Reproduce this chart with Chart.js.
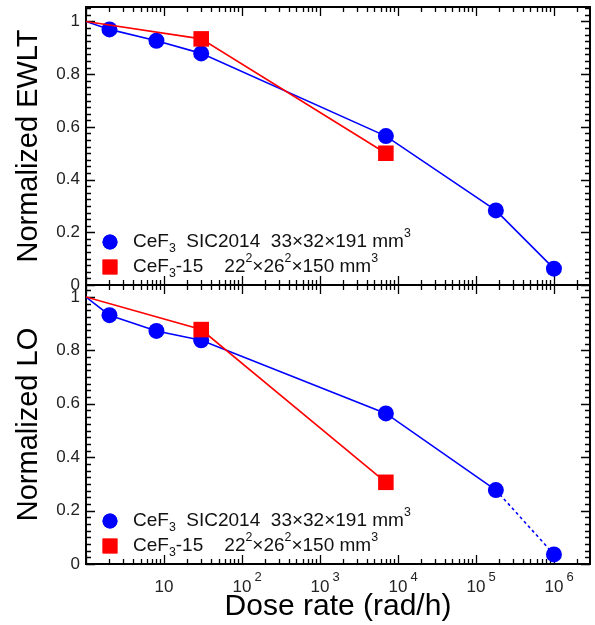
<!DOCTYPE html>
<html>
<head>
<meta charset="utf-8">
<script src="https://cdn.jsdelivr.net/npm/chart.js@4.4.1/dist/chart.umd.min.js"></script>
<style>
    html, body { margin: 0; padding: 0; background: #fff; }
    #wrap { position: relative; width: 595px; height: 625px; overflow: hidden; }
    canvas { position: absolute; left: 0; }
    #top { top: 0; }
    #bot { top: 280px; }
</style>
</head>
<body>
<div id="wrap">
    <canvas id="top" width="595" height="300"></canvas>
    <canvas id="bot" width="595" height="345"></canvas>
</div>
<script>
// dose rate (rad/h) and normalized values
const DOSE_BLUE = [1, 2, 8, 30, 7000, 1.8e5, 1e6];
const EWLT_BLUE = [1, 0.970, 0.927, 0.879, 0.565, 0.283, 0.062];
const LO_BLUE   = [1, 0.932, 0.873, 0.838, 0.564, 0.277, 0.036];

const DOSE_RED = [1, 30, 7000];
const EWLT_RED = [1, 0.934, 0.500];
const LO_RED   = [1, 0.878, 0.306];

const LABEL_BLUE = 'CeF₃  SIC2014  33×32×191 mm³';
const LABEL_RED  = 'CeF₃-15    22²×26²×150 mm³';

const X_TICKS       = [10, 1e2, 1e3, 1e4, 1e5, 1e6];
const X_TICK_LABELS = ['10', '10²', '10³', '10⁴', '10⁵', '10⁶'];
const Y_TICKS       = [0, 0.2, 0.4, 0.6, 0.8, 1];
const Y_TICK_LABELS = ['0', '0.2', '0.4', '0.6', '0.8', '1'];

const FONT  = '"Liberation Sans", Arial, sans-serif';
const BLUE  = '#0000ff';
const RED   = '#ff0000';

const SUB = { '₃': '3' };
const SUP = { '²': '2', '³': '3', '⁴': '4', '⁵': '5', '⁶': '6' };

// split a label into normal / sub / sup runs
function toRuns(text) {
    const runs = [];
    for (const ch of text) {
        const kind = SUB[ch] ? 'sub' : SUP[ch] ? 'sup' : 'n';
        const c    = SUB[ch] || SUP[ch] || ch;
        const last = runs[runs.length - 1];
        if (last && last.kind === kind) last.s += c;
        else runs.push({ kind, s: c });
    }
    return runs;
}

function drawRich(ctx, text, x, y, size) {
    for (const r of toRuns(text)) {
        let s = size, dy = 0;
        if (r.kind === 'sub') { s = size * 0.65; dy = size * 0.36; }
        if (r.kind === 'sup') { s = size * 0.65; dy = -size * 0.42; }
        ctx.font = `${s}px ${FONT}`;
        ctx.fillText(r.s, x, y + dy);
        x += ctx.measureText(r.s).width;
    }
}

const rootFrame = {
    id : 'rootFrame',

    beforeDatasetsDraw(chart) {
        const { ctx, chartArea: a, scales: { x, y } } = chart;
        ctx.save();
        ctx.strokeStyle = '#000';
        ctx.lineWidth   = 1.3;
        ctx.beginPath();

        const e0 = Math.floor(Math.log10(x.min));
        const e1 = Math.ceil(Math.log10(x.max));
        for (let e = e0; e <= e1; e++) {
            for (let m = 1; m <= 9; m++) {
                const v = m * Math.pow(10, e);
                if (v < x.min || v > x.max) continue;
                const px  = Math.round(x.getPixelForValue(v)) + 0.5;
                const len = m === 1 ? 9 : 5;
                ctx.moveTo(px, a.bottom); ctx.lineTo(px, a.bottom - len);
                ctx.moveTo(px, a.top);    ctx.lineTo(px, a.top + len);
            }
        }

        for (let k = 0; k * 0.025 <= y.max + 1e-9; k++) {
            const py  = Math.round(y.getPixelForValue(k * 0.025)) + 0.5;
            const len = k % 8 === 0 ? 9 : 5;
            ctx.moveTo(a.left, py);  ctx.lineTo(a.left + len, py);
            ctx.moveTo(a.right, py); ctx.lineTo(a.right - len, py);
        }
        ctx.stroke();

        ctx.lineWidth = 2;
        ctx.strokeRect(a.left, a.top, a.right - a.left, a.bottom - a.top);
        ctx.restore();
    },

    afterDraw(chart) {
        const { ctx, chartArea: a, scales: { x } } = chart;
        ctx.save();
        ctx.textBaseline = 'middle';
        ctx.textAlign    = 'left';

        // legend, inside the frame at the lower left
        chart.data.datasets.forEach((ds, i) => {
            const cy = a.bottom - 43 + i * 25;
            ctx.fillStyle = ds.backgroundColor;
            Chart.helpers.drawPoint(ctx, {
                pointStyle  : ds.pointStyle,
                radius      : ds.pointStyle === 'rect' ? 10.5 : 7.5,
                rotation    : 0,
                borderWidth : 0,
            }, a.left + 24, cy);
            ctx.fill();
            ctx.fillStyle = '#111';
            drawRich(ctx, ds.label, a.left + 47, cy, 19);
        });

        // decade labels with raised exponents
        if (x.options.display) {
            ctx.fillStyle = '#222';
            X_TICKS.forEach((v, i) => {
                const runs = toRuns(X_TICK_LABELS[i]);
                const px   = x.getPixelForValue(v);
                const cy   = a.bottom + 23;
                ctx.font = `17px ${FONT}`;
                const w = ctx.measureText(runs[0].s).width;
                ctx.fillText(runs[0].s, px - w / 2, cy);
                if (runs[1]) {
                    ctx.font = `13px ${FONT}`;
                    ctx.fillText(runs[1].s, px + w / 2 + 3, cy - 10);
                }
            });
        }
        ctx.restore();
    },
};

function noPad(s) {
    s.paddingTop = 0; s.paddingBottom = 0;
    s.paddingLeft = 0; s.paddingRight = 0;
}

function makePanel(id, cfg) {
    const ctx = document.getElementById(id).getContext('2d');
    const lastIdx = DOSE_BLUE.length - 1;

    return new Chart(ctx, {
        type : 'line',
        data : {
            datasets : [
                {
                    label           : LABEL_BLUE,
                    data            : DOSE_BLUE.map((x, i) => ({ x, y: cfg.blue[i] })),
                    borderColor     : BLUE,
                    backgroundColor : BLUE,
                    borderWidth     : 1.6,
                    pointStyle      : 'circle',
                    pointRadius     : (c) => c.dataIndex === 0 ? 0 : 8,
                    pointBorderWidth: 0,
                    tension         : 0,
                    order           : 1,
                    segment         : {
                        borderDash : (c) => cfg.dottedLast && c.p1DataIndex === lastIdx ? [3, 3] : undefined,
                    },
                },
                {
                    label           : LABEL_RED,
                    data            : DOSE_RED.map((x, i) => ({ x, y: cfg.red[i] })),
                    borderColor     : RED,
                    backgroundColor : RED,
                    borderWidth     : 1.6,
                    pointStyle      : 'rect',
                    pointRadius     : (c) => c.dataIndex === 0 ? 0 : 11,
                    pointBorderWidth: 0,
                    tension         : 0,
                    order           : 0,
                },
            ],
        },
        options : {
            responsive : false,
            animation  : false,
            events     : [],
            layout     : { padding: cfg.padding, autoPadding: false },
            plugins    : { legend: { display: false }, tooltip: { enabled: false } },
            scales     : {
                x : {
                    type    : 'logarithmic',
                    min     : 1,
                    max     : 2.9e6,
                    display : cfg.showX,
                    grid    : { display: false, drawTicks: false },
                    border  : { display: false },
                    afterBuildTicks : (s) => { s.ticks = X_TICKS.map((v) => ({ value: v })); },
                    afterFit        : (s) => { s.height = cfg.xHeight; noPad(s); },
                    ticks   : {
                        display  : false,
                        autoSkip : false,
                        callback : (v, i) => X_TICK_LABELS[i],
                    },
                    title   : {
                        display : cfg.showX,
                        text    : 'Dose rate (rad/h)',
                        color   : '#000',
                        font    : { family: FONT, size: 30 },
                        padding : { top: 0, bottom: 0 },
                    },
                },
                y : {
                    min    : 0,
                    max    : cfg.yMax,
                    grid   : { display: false, drawTicks: false },
                    border : { display: false },
                    afterBuildTicks : (s) => { s.ticks = Y_TICKS.map((v) => ({ value: v })); },
                    afterFit        : (s) => { s.width = 86; noPad(s); },
                    ticks  : {
                        color    : '#222',
                        font     : { family: FONT, size: 17 },
                        padding  : 6,
                        callback : (v, i) => Y_TICK_LABELS[i],
                    },
                    title  : {
                        display : true,
                        text    : cfg.yTitle,
                        color   : '#000',
                        font    : { family: FONT, size: 29 },
                        padding : { top: 12, bottom: 0 },
                    },
                },
            },
        },
        plugins : [rootFrame],
    });
}

makePanel('top', {
    yTitle     : 'Normalized EWLT',
    yMax       : 1.055,
    blue       : EWLT_BLUE,
    red        : EWLT_RED,
    dottedLast : false,
    showX      : false,
    xHeight    : 0,
    padding    : { left: 0, right: 5, top: 7, bottom: 15 },
});

makePanel('bot', {
    yTitle     : 'Normalized LO',
    yMax       : 1.045,
    blue       : LO_BLUE,
    red        : LO_RED,
    dottedLast : true,
    showX      : true,
    xHeight    : 61,
    padding    : { left: 0, right: 5, top: 5, bottom: 0 },
});
</script>
</body>
</html>
